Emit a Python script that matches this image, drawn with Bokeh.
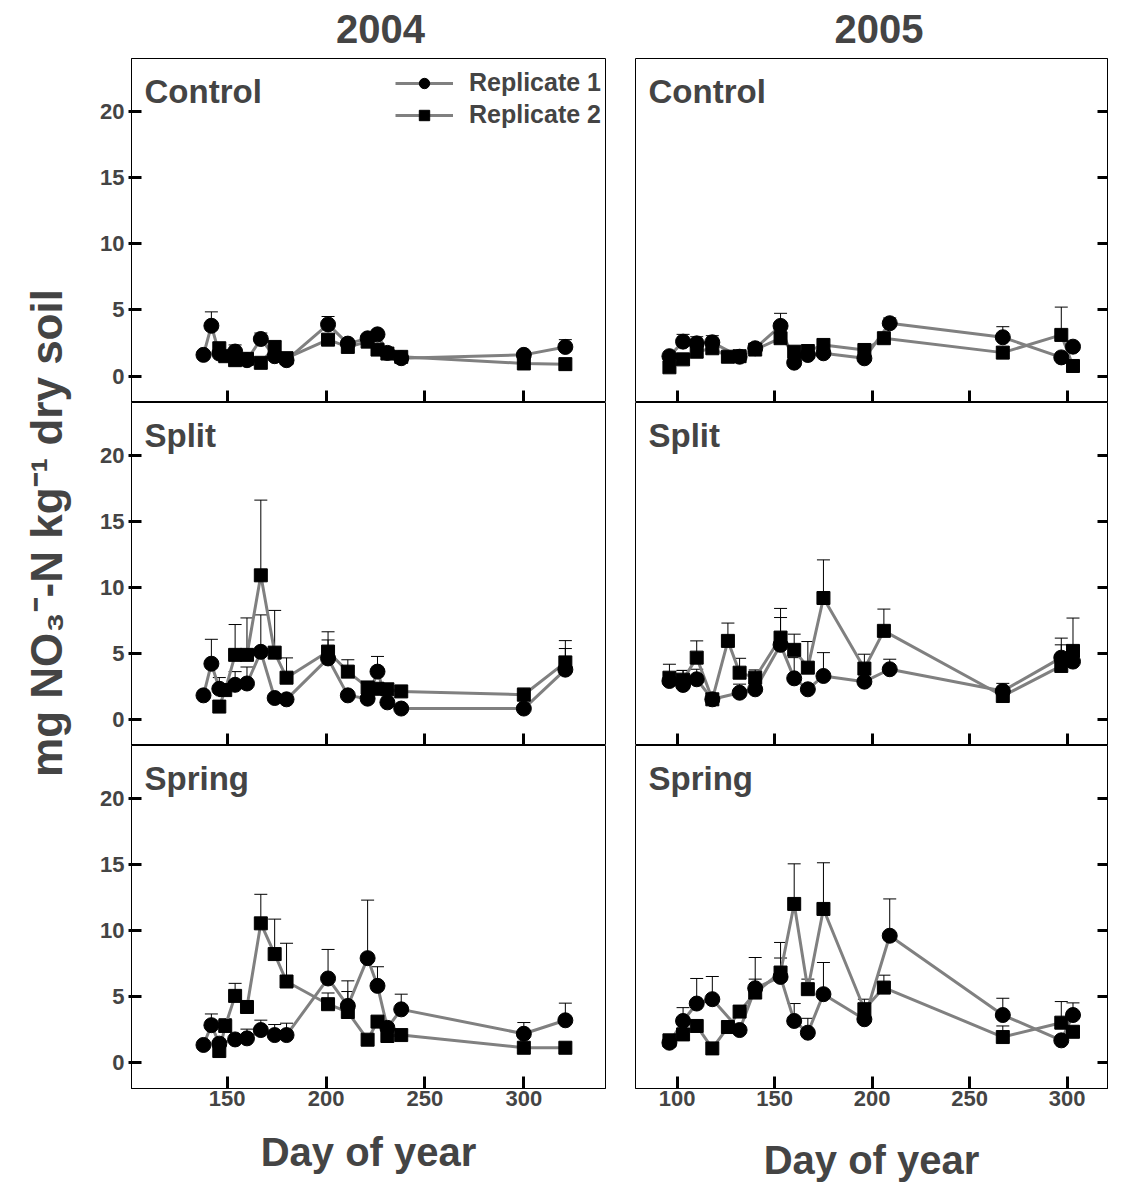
import math

from bokeh.embed import file_html
from bokeh.models import (ColumnDataSource, FixedTicker, GridPlot, Label, Legend,
                          LegendItem, LinearAxis, Range1d, TeeHead, Whisker)
from bokeh.plotting import figure
from bokeh.resources import INLINE

FONT = "Liberation Sans"

# ---- sampling days ----------------------------------------------------------
DAYS_2004_R1 = [138, 142, 146, 154, 160, 167, 174, 180, 201, 211, 221, 226, 231, 238, 300, 321]
DAYS_2004_R2 = [146, 149, 154, 160, 167, 174, 180, 201, 211, 221, 226, 231, 238, 300, 321]
DAYS_2005_R1 = [96, 103, 110, 118, 132, 140, 153, 160, 167, 175, 196, 209, 267, 297, 303]
DAYS_2005_R2 = [96, 103, 110, 118, 126, 132, 140, 153, 160, 167, 175, 196, 206, 267, 297, 303]

# ---- soil nitrate (mg NO3-N / kg dry soil), means and standard deviations ----
CONTROL_2004_R1 = [1.6, 3.8, 1.7, 1.85, 1.2, 2.8, 1.5, 1.2, 3.9, 2.45, 2.85, 3.15, 1.75, 1.35, 1.6, 2.2]
CONTROL_2004_R1_SD = [0, 1.05, 0, 0.5, 0, 0.45, 0, 0, 0.6, 0, 0, 0, 0, 0, 0, 0.55]
CONTROL_2004_R2 = [2.1, 1.5, 1.2, 1.3, 1.0, 2.2, 1.35, 2.75, 2.2, 2.6, 2.0, 1.7, 1.45, 0.95, 0.9]
CONTROL_2004_R2_SD = [0, 0, 0, 0, 0, 0.4, 0, 0, 0, 0, 0, 0, 0, 0, 0]

SPLIT_2004_R1 = [1.8, 4.2, 2.3, 2.6, 2.7, 5.1, 1.6, 1.5, 4.6, 1.8, 1.55, 3.6, 1.27, 0.8, 0.8, 3.75]
SPLIT_2004_R1_SD = [0, 1.85, 0.85, 1.0, 1.25, 2.8, 0, 0, 1.4, 0, 0, 1.15, 0, 0, 0, 1.6]
SPLIT_2004_R2 = [0.95, 2.2, 4.87, 4.87, 10.9, 5.04, 3.14, 5.12, 3.6, 2.4, 2.3, 2.26, 2.1, 1.85, 4.3]
SPLIT_2004_R2_SD = [0, 0, 2.3, 2.8, 5.7, 3.2, 1.5, 1.5, 0.9, 0, 0, 0, 0, 0.5, 1.65]

SPRING_2004_R1 = [1.3, 2.8, 1.4, 1.72, 1.8, 2.43, 2.05, 2.05, 6.34, 4.26, 7.88, 5.78, 2.6, 4.0, 2.15, 3.17]
SPRING_2004_R1_SD = [0, 0.85, 0, 0, 0.7, 0.75, 0.8, 0.9, 2.2, 1.9, 4.4, 1.45, 0.3, 1.15, 0.85, 1.3]
SPRING_2004_R2 = [0.84, 2.74, 5.02, 4.18, 10.52, 8.19, 6.11, 4.39, 3.8, 1.7, 3.07, 1.98, 2.05, 1.09, 1.09]
SPRING_2004_R2_SD = [0, 0.55, 0.95, 0, 2.2, 2.65, 2.9, 0.85, 1.55, 0, 0, 0, 0, 0, 0]

CONTROL_2005_R1 = [1.5, 2.6, 2.47, 2.55, 1.46, 2.1, 3.79, 1.01, 1.59, 1.72, 1.34, 3.99, 2.93, 1.41, 2.22]
CONTROL_2005_R1_SD = [0, 0.55, 0.5, 0.5, 0, 0, 0.95, 0, 0, 0, 0, 0.4, 0.8, 0, 0]
CONTROL_2005_R2 = [0.66, 1.26, 1.84, 2.1, 1.46, 1.5, 2.0, 2.86, 1.84, 1.89, 2.35, 1.97, 2.86, 1.77, 3.11, 0.76]
CONTROL_2005_R2_SD = [0, 0, 0, 0, 0, 0, 0, 0, 0, 0, 0, 0, 0, 0, 2.1, 0]

SPLIT_2005_R1 = [2.89, 2.59, 3.02, 1.5, 2.0, 2.26, 5.63, 3.09, 2.26, 3.27, 2.84, 3.78, 2.13, 4.66, 4.36]
SPLIT_2005_R1_SD = [1.27, 1.1, 0.76, 0, 0.65, 0, 2.07, 1.57, 0, 1.77, 0, 0.76, 0.58, 1.48, 0]
SPLIT_2005_R2 = [3.14, 2.99, 4.66, 1.5, 5.93, 3.52, 3.14, 6.18, 5.25, 3.9, 9.18, 3.83, 6.69, 1.75, 4.03, 5.17]
SPLIT_2005_R2_SD = [0, 0.7, 1.27, 0, 1.35, 1.09, 0.59, 2.21, 1.19, 1.98, 2.89, 1.09, 1.65, 0, 1.6, 2.49]

SPRING_2005_R1 = [1.47, 3.12, 4.44, 4.77, 2.43, 5.6, 6.46, 3.12, 2.23, 5.15, 3.25, 9.58, 3.57, 1.65, 3.57]
SPRING_2005_R1_SD = [0, 1.01, 1.9, 1.72, 0, 2.33, 2.61, 1.32, 1.09, 2.4, 0, 2.79, 1.27, 0, 0.92]
SPRING_2005_R2 = [1.65, 2.1, 2.74, 1.04, 2.66, 3.83, 5.27, 6.79, 11.99, 5.53, 11.61, 4.01, 5.65, 1.9, 2.99, 2.3]
SPRING_2005_R2_SD = [0, 0, 0, 0, 0, 0, 1.02, 1.1, 3.04, 0.76, 3.5, 0.76, 0.94, 0.84, 1.6, 0]

YEARS = ["2004", "2005"]
TREATMENTS = ["Control", "Split", "Spring"]
SERIES_LABELS = ["Replicate 1", "Replicate 2"]
Y_TICKS = [0, 5, 10, 15, 20]
X_TICKS = {"2004": [150, 200, 250, 300], "2005": [100, 150, 200, 250, 300]}
X_LABEL = "Day of year"
Y_LABEL = "mg NO\u2083\u207b-N kg\u207b\u00b9 dry soil"

DATA = {
    ("2004", "Control"): (CONTROL_2004_R1, CONTROL_2004_R1_SD, CONTROL_2004_R2, CONTROL_2004_R2_SD),
    ("2004", "Split"): (SPLIT_2004_R1, SPLIT_2004_R1_SD, SPLIT_2004_R2, SPLIT_2004_R2_SD),
    ("2004", "Spring"): (SPRING_2004_R1, SPRING_2004_R1_SD, SPRING_2004_R2, SPRING_2004_R2_SD),
    ("2005", "Control"): (CONTROL_2005_R1, CONTROL_2005_R1_SD, CONTROL_2005_R2, CONTROL_2005_R2_SD),
    ("2005", "Split"): (SPLIT_2005_R1, SPLIT_2005_R1_SD, SPLIT_2005_R2, SPLIT_2005_R2_SD),
    ("2005", "Spring"): (SPRING_2005_R1, SPRING_2005_R1_SD, SPRING_2005_R2, SPRING_2005_R2_SD),
}
DAYS = {"2004": (DAYS_2004_R1, DAYS_2004_R2), "2005": (DAYS_2005_R1, DAYS_2005_R2)}

# ---- layout ------------------------------------------------------------------
X_RANGE = {"2004": (101.6, 341.3), "2005": (78.6, 320.7)}
Y_RANGE = (-2, 24)
YLAB_W = 83
COL_W = {"2004": 537, "2005": 506}
BORDER_L = {"2004": 48, "2005": 15}
BORDER_R = {"2004": 15, "2005": 19}
FRAME_W = {"2004": 474, "2005": 472}
HEAD_CX = {"2004": 282, "2005": 261}   # heading centre inside its header strip
HEAD_H = 58
ROW_H = [344, 343, 440]
BOTTOM_B = 97
TOTAL_H = HEAD_H + sum(ROW_H)
YLAB_Y = 605                            # centre of the rotated y title

LINE_GREY = "#808080"


def bare_figure(width, height):
    f = figure(width=width, height=height, x_range=Range1d(0, width),
               y_range=Range1d(0, height), output_backend="svg",
               toolbar_location=None, x_axis_location=None, y_axis_location=None,
               min_border=0, outline_line_color=None)
    f.grid.visible = False
    return f


def add_upper_bars(p, days, vals, sds):
    base = [d for d, s in zip(days, sds) if s > 0]
    low = [v for v, s in zip(vals, sds) if s > 0]
    up = [v + s for v, s in zip(vals, sds) if s > 0]
    if not base:
        return
    src = ColumnDataSource(dict(base=base, lower=low, upper=up))
    p.add_layout(Whisker(base="base", lower="lower", upper="upper", source=src,
                         dimension="height", line_color="black", line_width=1,
                         lower_head=None,
                         upper_head=TeeHead(size=13, line_color="black", line_width=1)))


def hide_labels(axis):
    axis.major_label_text_font_size = "0px"
    axis.major_label_text_color = None
    axis.major_label_standoff = 0


def make_header(year):
    h = bare_figure(COL_W[year], HEAD_H)
    h.add_layout(Label(x=HEAD_CX[year], y=HEAD_H - 28, text=year, text_font=FONT,
                       text_font_size="40px", text_font_style="bold",
                       text_align="center", text_baseline="middle"))
    return h


def make_panel(year, row):
    left = year == "2004"
    treat = TREATMENTS[row]
    frame_h = ROW_H[row] - (BOTTOM_B if row == 2 else 0)
    p = figure(width=COL_W[year], height=ROW_H[row],
               x_range=Range1d(*X_RANGE[year]), y_range=Range1d(*Y_RANGE),
               output_backend="svg", toolbar_location=None,
               x_axis_location=None, y_axis_location=None,
               min_border_left=BORDER_L[year], min_border_right=BORDER_R[year],
               min_border_top=0,
               min_border_bottom=BOTTOM_B if row == 2 else 0,
               background_fill_color="white", border_fill_color="white")
    p.grid.visible = False
    p.outline_line_color = "black"
    p.outline_line_width = 1

    x0, x1 = X_RANGE[year]
    day_per_px = (x1 - x0) / FRAME_W[year]
    unit_per_px = (Y_RANGE[1] - Y_RANGE[0]) / frame_h

    # x axis: inward ticks, labels only on the bottom row
    xa = LinearAxis(ticker=FixedTicker(ticks=X_TICKS[year]),
                    major_tick_in=12, major_tick_out=0, major_tick_line_width=3,
                    minor_tick_line_color=None, axis_line_color="black")
    if row == 2:
        xa.major_label_text_font = FONT
        xa.major_label_text_font_size = "22px"
        xa.major_label_text_font_style = "bold"
        xa.major_label_standoff = 2
        xa.axis_label = X_LABEL
        xa.axis_label_text_font = FONT
        xa.axis_label_text_font_size = "40px"
        xa.axis_label_text_font_style = "bold"
        xa.axis_label_standoff = 21 if left else 29
    else:
        hide_labels(xa)
    p.add_layout(xa, "below")

    # y axis: labelled on the left column, bare ticks on the right column
    ya = LinearAxis(ticker=FixedTicker(ticks=Y_TICKS), minor_tick_line_color=None,
                    major_tick_line_width=3, axis_line_color="black")
    ya.major_tick_in = 10
    if left:
        ya.major_tick_out = 3
        ya.major_label_text_font = FONT
        ya.major_label_text_font_size = "22px"
        ya.major_label_text_font_style = "bold"
        ya.major_label_standoff = 4
        p.add_layout(ya, "left")
    else:
        ya.major_tick_out = 0
        hide_labels(ya)
        p.add_layout(ya, "right")

    d1, d2 = DAYS[year]
    v1, s1, v2, s2 = DATA[(year, treat)]

    l1 = p.line(d1, v1, line_color=LINE_GREY, line_width=3)
    l2 = p.line(d2, v2, line_color=LINE_GREY, line_width=3)
    add_upper_bars(p, d1, v1, s1)
    add_upper_bars(p, d2, v2, s2)
    m1 = p.scatter(d1, v1, marker="circle", size=15, fill_color="black", line_color="black")
    m2 = p.scatter(d2, v2, marker="square", size=13, fill_color="black", line_color="black")

    # treatment name in the upper-left corner of the panel
    p.add_layout(Label(x=x0 + 13 * day_per_px, y=Y_RANGE[1] - 33 * unit_per_px,
                       text=treat, text_font=FONT, text_font_size="33px",
                       text_font_style="bold", text_baseline="middle", text_align="left"))

    if left and row == 0:
        legend = Legend(items=[LegendItem(label=SERIES_LABELS[0], renderers=[l1, m1]),
                               LegendItem(label=SERIES_LABELS[1], renderers=[l2, m2])],
                        location=(264, 273), glyph_width=58, glyph_height=26,
                        label_height=26, spacing=3, label_standoff=16,
                        padding=0, margin=0, border_line_color=None,
                        background_fill_alpha=0, label_text_font=FONT,
                        label_text_font_style="bold", label_text_font_size="25px")
        p.add_layout(legend)
    return p


# ---- shared y-axis title -----------------------------------------------------
ylab = bare_figure(YLAB_W, TOTAL_H)
ylab.add_layout(Label(x=46, y=YLAB_Y, text=Y_LABEL, angle=math.pi / 2,
                      text_font=FONT, text_font_size="44px", text_font_style="bold",
                      text_align="center", text_baseline="middle"))

children = [(ylab, 0, 0, 4, 1)]
for c, yr in enumerate(YEARS):
    children.append((make_header(yr), 0, c + 1))
    for r in range(3):
        children.append((make_panel(yr, r), r + 1, c + 1))

grid = GridPlot(children=children, toolbar_location=None, spacing=0)

open("out.html", "w").write(file_html(grid, INLINE))
